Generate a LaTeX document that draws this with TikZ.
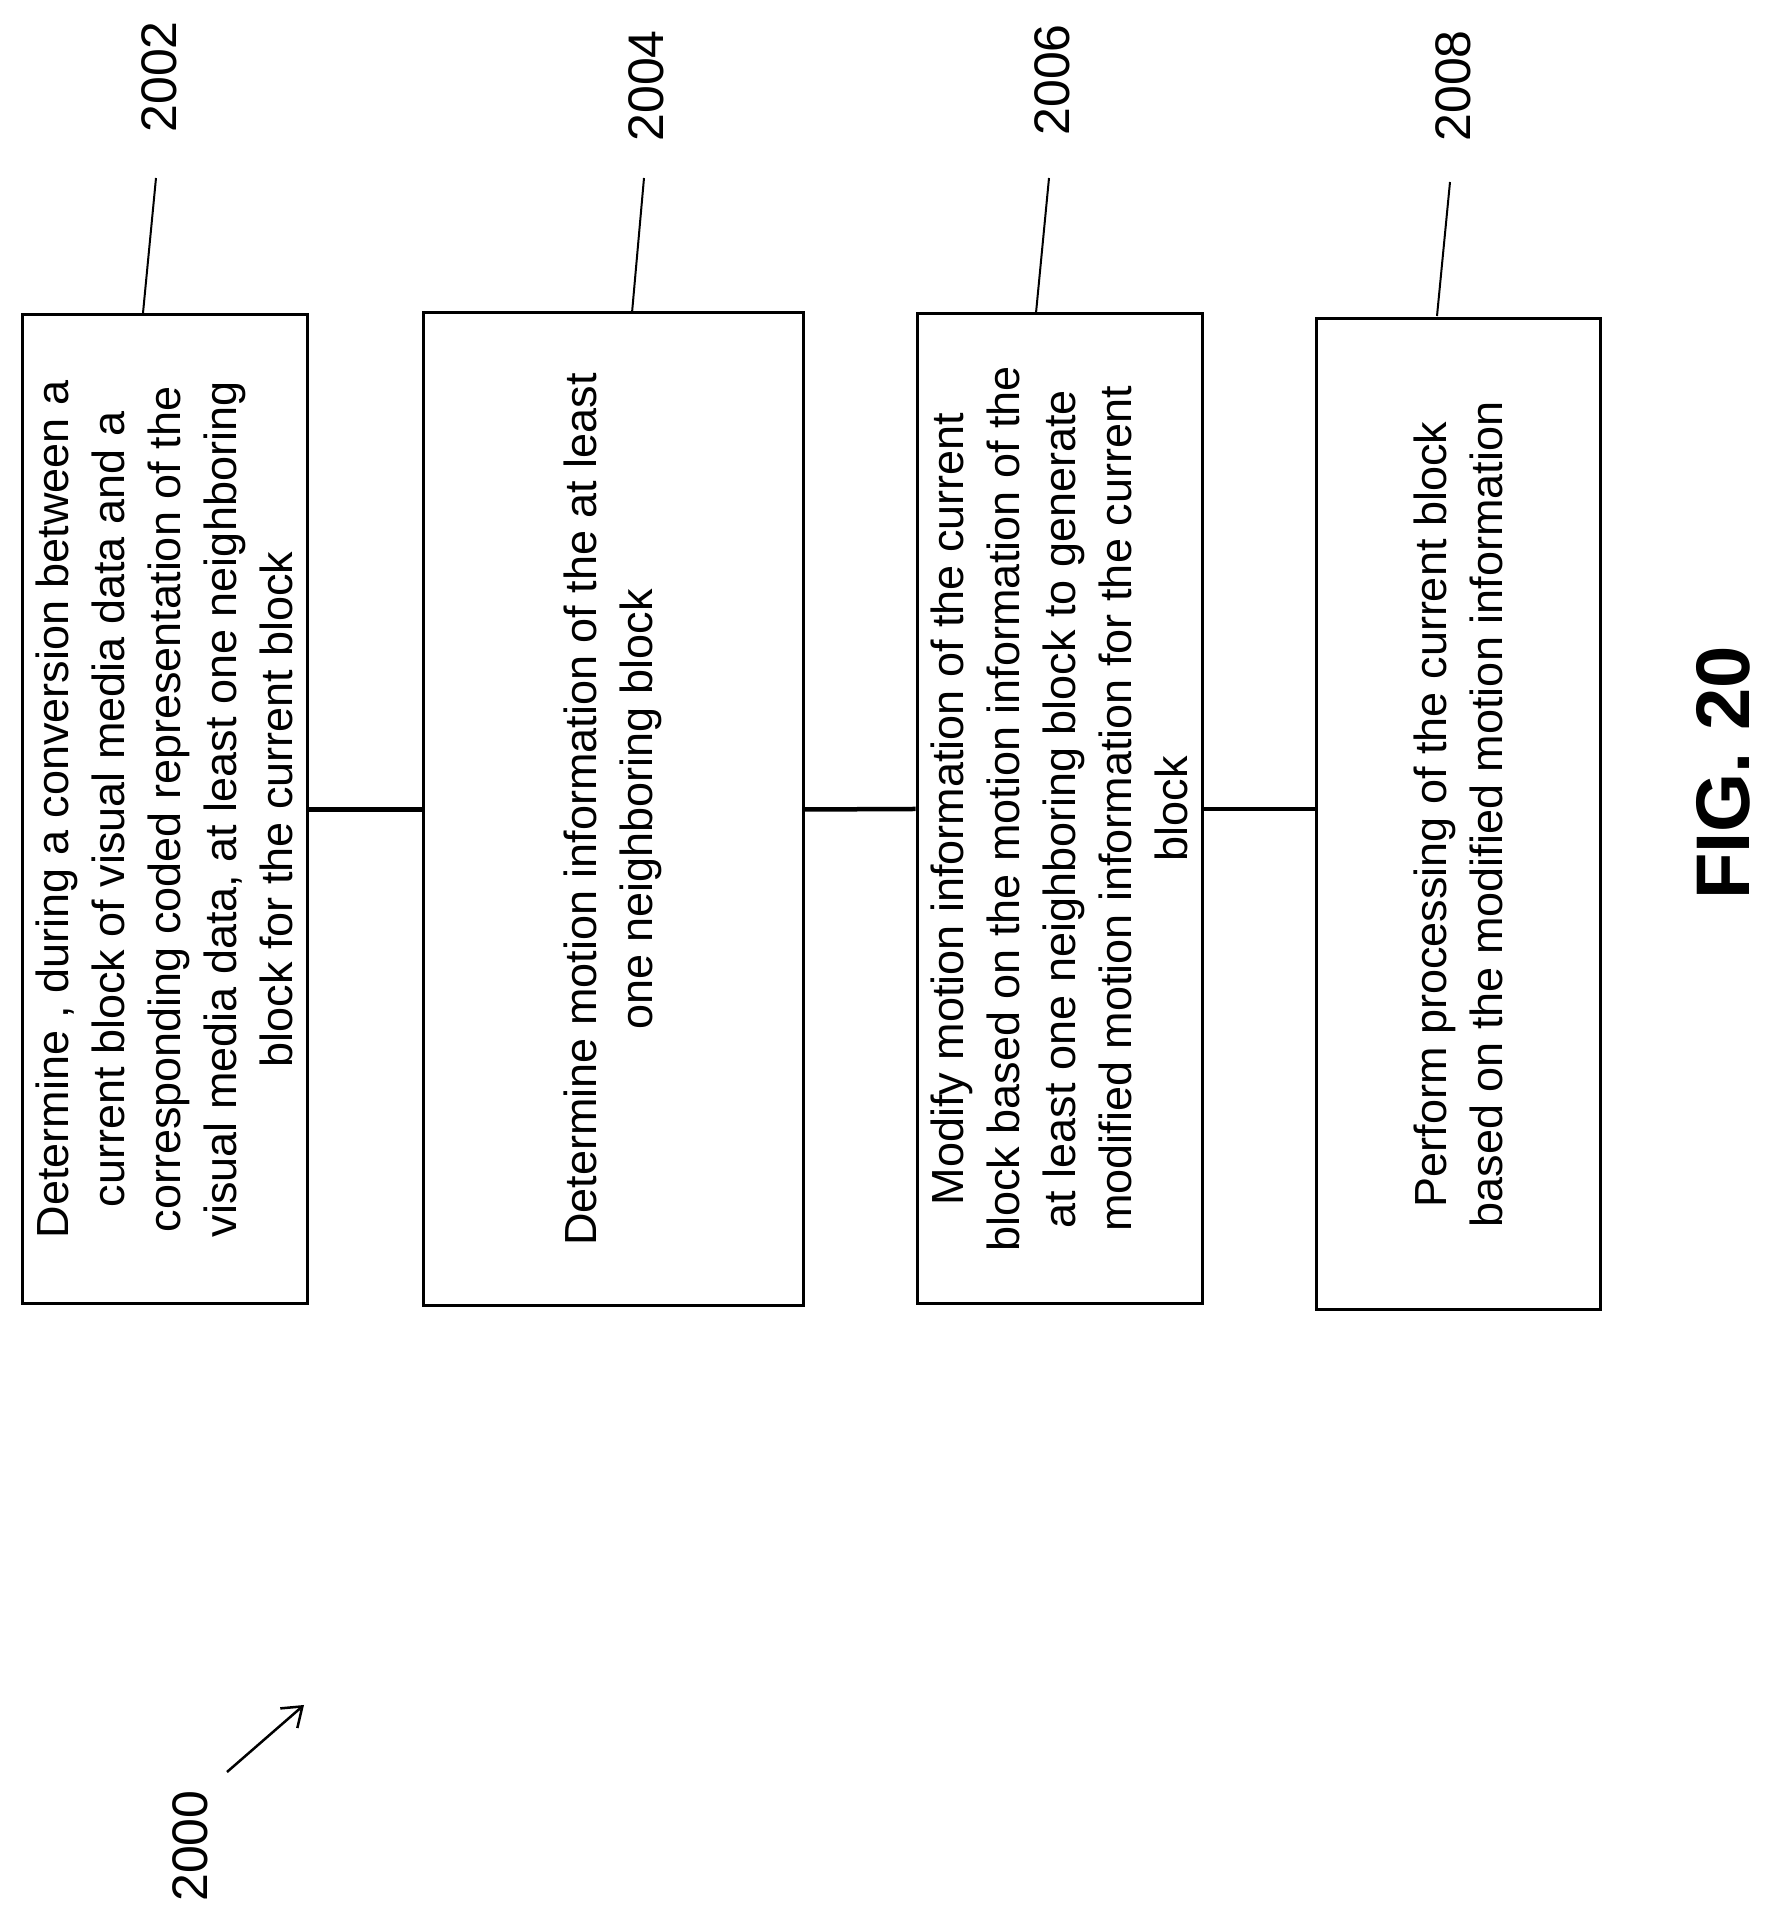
\documentclass[tikz,border=0pt]{standalone}
\usepackage{fontspec}
\usetikzlibrary{arrows.meta}
\setmainfont{Liberation Sans}
\begin{document}
\begin{tikzpicture}[x=1pt,y=1pt,
  box/.style={draw,line width=3pt,rectangle,rotate=90,align=center,inner sep=0pt,
    font=\fontsize{45}{56}\selectfont},
  num/.style={rotate=90,font=\fontsize{50}{60}\selectfont},
  lead/.style={line width=2pt},
  conn/.style={line width=4.5pt}]
\useasboundingbox (0,0) rectangle (1766,1917);
\node[box,minimum width=989pt,minimum height=285pt] (b1) at (164.5,1107.5)
 {Determine , during a conversion between a\\current block of visual media data and a\\corresponding coded representation of the\\visual media data, at least one neighboring\\block for the current block};
\node[box,minimum width=993pt,minimum height=380pt] (b2) at (613,1107.5)
 {Determine motion information of the at least\\one neighboring block};
\node[box,minimum width=990pt,minimum height=285pt] (b3) at (1059.5,1108)
 {Modify motion information of the current\\block based on the motion information of the\\at least one neighboring block to generate\\modified motion information for the current\\block};
\node[box,minimum width=991pt,minimum height=284pt] (b4) at (1458,1102.5)
 {Perform processing of the current block\\based on the modified motion information};
\draw[conn] (b1.south) -- (b2.north);
\draw[conn] (b2.south) -- (b3.north);
\draw[conn] (b3.south) -- (b3.south -| b4.north);
\node[num] (n1) at (159,1840) {2002};
\node[num] (n2) at (646,1831) {2004};
\node[num] (n3) at (1052,1837) {2006};
\node[num] (n4) at (1453,1831) {2008};
\draw[lead] (143,1604) -- (156,1739);
\draw[lead] (632,1604) -- (644,1739);
\draw[lead] (1036,1604) -- (1049,1739);
\draw[lead] (1437,1601) -- (1450,1735);
\node[num] (n0) at (190,71) {2000};
\coordinate (a0) at (227,145); \coordinate (a1) at (304,212);
\draw[line width=2.5pt,-{Straight Barb[length=18pt,width=26pt]}] (a0) -- (a1);
\node[rotate=90,font=\fontsize{76}{80}\selectfont\bfseries] (fig) at (1723,1144) {FIG. 20};
\end{tikzpicture}
\end{document}
